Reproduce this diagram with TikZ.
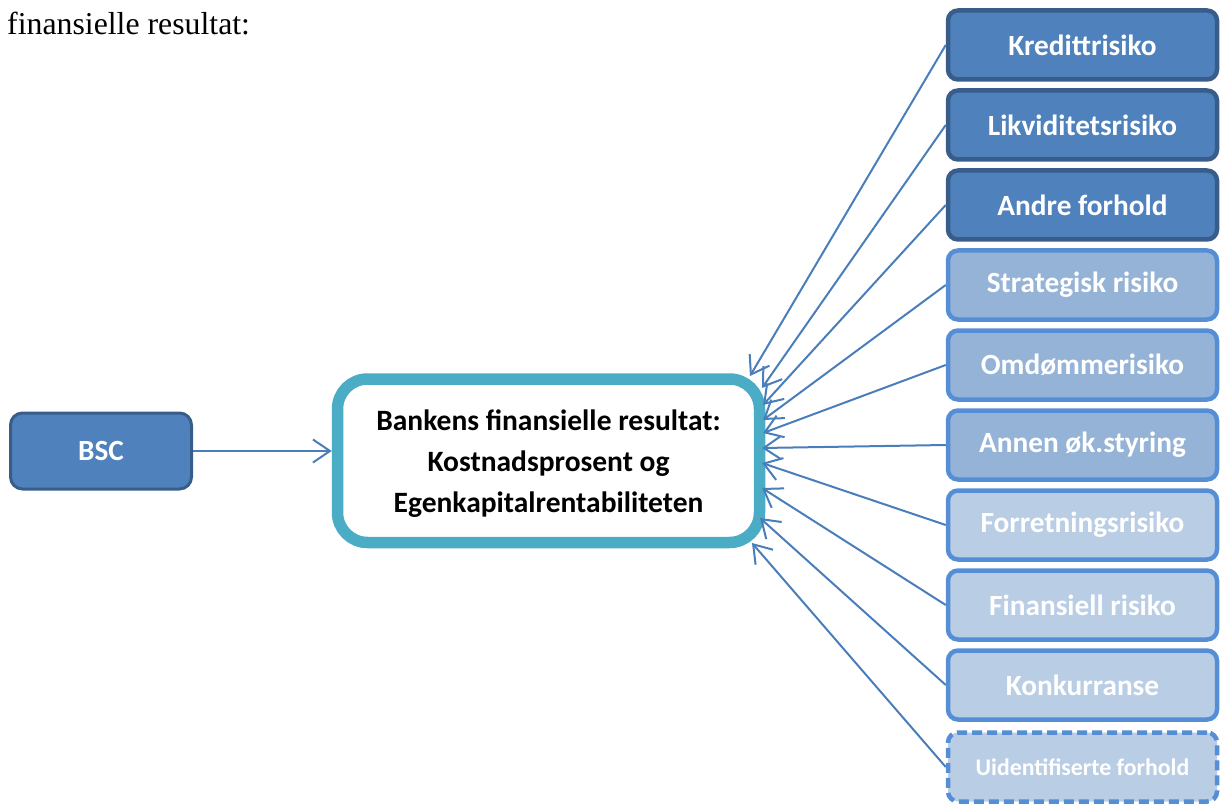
\documentclass[tikz,border=0pt]{standalone}
\usepackage{fontspec}
\setmainfont{Carlito}
\newfontfamily\timesfont{Liberation Serif}
\usetikzlibrary{arrows.meta}
\definecolor{darkfill}{HTML}{4F81BD}
\definecolor{darkedge}{HTML}{385D8A}
\definecolor{midfill}{HTML}{95B3D7}
\definecolor{lightfill}{HTML}{B9CDE5}
\definecolor{lightedge}{HTML}{558ED5}
\definecolor{resultedge}{HTML}{4BACC6}
\definecolor{linkcol}{HTML}{4A7EBB}

\begin{document}
\begin{tikzpicture}[x=1pt,y=-1pt,
  box/.style={rectangle, rounded corners=10pt, minimum width=269pt,
    minimum height=69pt, inner sep=0pt, text=white,
    font=\fontsize{29.3}{35}\selectfont\bfseries, line width=4.5pt},
  riskdark/.style={box, fill=darkfill, draw=darkedge},
  riskmid/.style={box, fill=midfill, draw=lightedge},
  risklight/.style={box, fill=lightfill, draw=lightedge},
  link/.style={draw=linkcol, line width=2pt,
    -{Straight Barb[length=17pt,width=23pt]}},
]
\useasboundingbox (0,0) rectangle (1221,805);

% running text above the figure
\node[anchor=base west, inner sep=0pt,
      font=\timesfont\fontsize{31.8}{36}\selectfont] (caption) at (7,35)
  {finansielle resultat:};

% central result box
\node[draw=resultedge, fill=white, line width=11.5pt, rounded corners=30pt,
      minimum width=422pt, minimum height=163.5pt, inner sep=0pt,
      align=center, font=\fontsize{29.5}{41}\selectfont\bfseries]
  (main) at (548.5,460.75) {};
\node[align=center, inner sep=0pt, font=\fontsize{29.5}{41}\selectfont\bfseries]
  (maintext) at (548.5,463.5)
  {Bankens finansielle resultat:\\Kostnadsprosent og\\Egenkapitalrentabiliteten};

% balanced scorecard
\node[riskdark, minimum width=181pt, minimum height=76pt,
      rounded corners=12pt, line width=3pt] (bsc) at (101,451) {BSC};
\draw[link] (bsc.east) -- (bsc.east -| main.west);

% risk factors
\node[riskdark]  (r1)  at (1082.5,45)  {Kredittrisiko};
\node[riskdark]  (r2)  at (1082.5,125) {Likviditetsrisiko};
\node[riskdark]  (r3)  at (1082.5,205) {Andre forhold};
\node[riskmid]   (r4)  at (1082.5,285) {Strategisk risiko};
\node[riskmid]   (r5)  at (1082.5,365) {Omdømmerisiko};
\node[riskmid]   (r6)  at (1082.5,445) {Annen øk.styring};
\node[risklight] (r7)  at (1082.5,525) {Forretningsrisiko};
\node[risklight] (r8)  at (1082.5,605) {Finansiell risiko};
\node[risklight] (r9)  at (1082.5,685) {Konkurranse};
\node[risklight, dash pattern=on 10pt off 5pt,
      font=\fontsize{23.8}{28}\selectfont\bfseries]
                 (r10) at (1082.5,767) {Uidentifiserte forhold};

% arrow targets on the result box
\coordinate (t1)  at (750,376);
\coordinate (t2)  at (762,388);
\coordinate (t3)  at (763,405);
\coordinate (t4)  at (763,420);
\coordinate (t5)  at (763,433);
\coordinate (t6)  at (762,448);
\coordinate (t7)  at (762,463);
\coordinate (t8)  at (762,488);
\coordinate (t9)  at (760,518);
\coordinate (t10) at (752,543);

\foreach \i in {1,...,10}
  \draw[link] (r\i.west) -- (t\i);
\end{tikzpicture}
\end{document}
